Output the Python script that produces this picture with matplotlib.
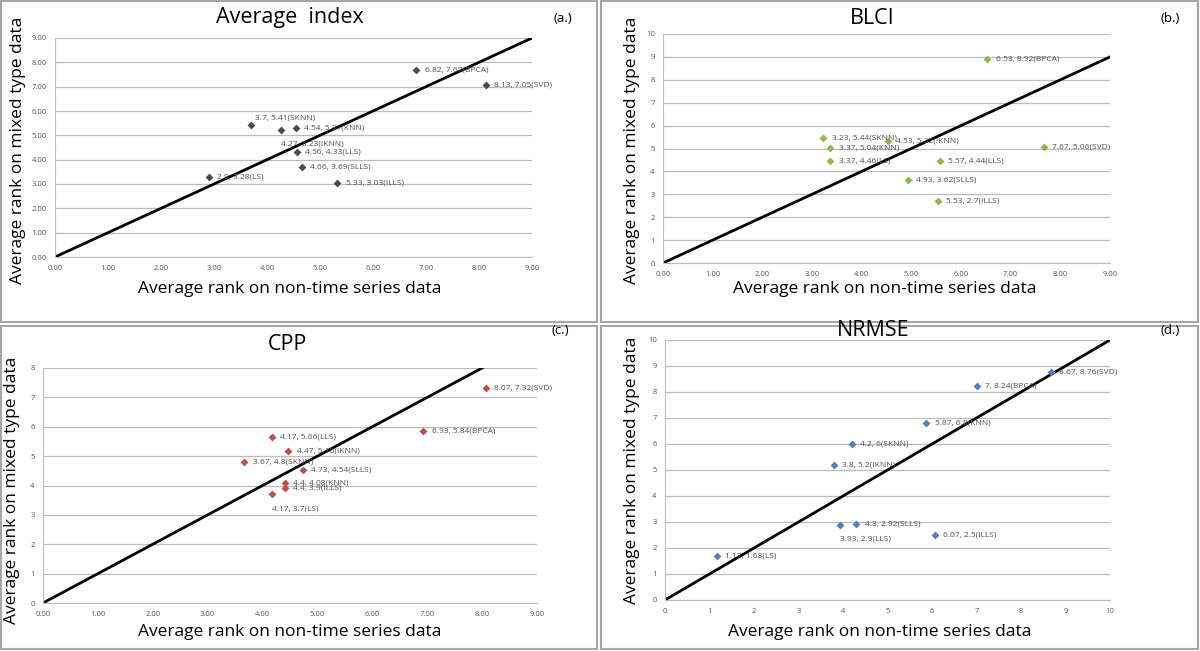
"""
Average rank comparison of imputation methods (four panels)
"""

import matplotlib
matplotlib.use("Agg")
from matplotlib import pyplot as plt
from matplotlib.patches import Rectangle
from matplotlib.ticker import FormatStrFormatter

plt.rcParams['font.family'] = ['Open Sans', 'DejaVu Sans']

# Average index
avg_names = ['BPCA', 'SVD', 'SKNN', 'KNN', 'IKNN', 'LLS', 'SLLS', 'LS', 'ILLS']
avg_x = [6.82, 8.13, 3.7, 4.54, 4.27, 4.56, 4.66, 2.9, 5.33]
avg_y = [7.67, 7.05, 5.41, 5.31, 5.23, 4.33, 3.69, 3.28, 3.03]

# BLCI
blci_names = ['BPCA', 'SKNN', 'IKNN', 'KNN', 'SVD', 'LS', 'LLS', 'SLLS', 'ILLS']
blci_x = [6.53, 3.23, 4.53, 3.37, 7.67, 3.37, 5.57, 4.93, 5.53]
blci_y = [8.92, 5.44, 5.32, 5.04, 5.06, 4.46, 4.44, 3.62, 2.7]

# CPP
cpp_names = ['SVD', 'BPCA', 'LLS', 'IKNN', 'SKNN', 'SLLS', 'KNN', 'ILLS', 'LS']
cpp_x = [8.07, 6.93, 4.17, 4.47, 3.67, 4.73, 4.4, 4.4, 4.17]
cpp_y = [7.32, 5.84, 5.66, 5.16, 4.8, 4.54, 4.08, 3.9, 3.7]

# NRMSE
nrmse_names = ['SVD', 'BPCA', 'KNN', 'SKNN', 'IKNN', 'SLLS', 'LLS', 'ILLS', 'LS']
nrmse_x = [8.67, 7, 5.87, 4.2, 3.8, 4.3, 3.93, 6.07, 1.17]
nrmse_y = [8.76, 8.24, 6.8, 6, 5.2, 2.92, 2.9, 2.5, 1.68]

XLABEL = 'Average rank on non-time series data'
YLABEL = 'Average rank on mixed type data'

fig = plt.figure(figsize=(12, 6.51), dpi=100)


def px(x0, y0, x1, y1):
    # pixel box (top-left origin) -> figure fraction rect
    return [x0 / 1200, 1 - y1 / 651, (x1 - x0) / 1200, (y1 - y0) / 651]


def panel(rect, names, xs, ys, color, ymax, diag_end, xfmt, yfmt, xmax,
          below=(), above=()):
    ax = fig.add_axes(rect)
    ax.plot([0, diag_end], [0, diag_end], color='black', lw=2, zorder=2)
    ax.scatter(xs, ys, marker='D', s=16, color=color, zorder=3, linewidths=0)
    for n, x, y in zip(names, xs, ys):
        txt = f'{x:g}, {y:g}({n})'
        if n in below:
            off, va = (0, -8), 'top'
        elif n in above:
            off, va = (3, 3), 'bottom'
        else:
            off, va = (6, 0), 'center'
        ax.annotate(txt, (x, y), xytext=off, textcoords='offset points',
                    fontsize=6, color='#505050', va=va, ha='left')
    ax.set_xlim(0, xmax)
    ax.set_ylim(0, ymax)
    ax.set_xticks(range(0, xmax + 1))
    ax.set_yticks(range(0, ymax + 1))
    if xfmt:
        ax.xaxis.set_major_formatter(FormatStrFormatter(xfmt))
    if yfmt:
        ax.yaxis.set_major_formatter(FormatStrFormatter(yfmt))
    ax.grid(axis='y', color='#bdbdbd', lw=0.9)
    ax.set_axisbelow(True)
    for s in ['top', 'right']:
        ax.spines[s].set_visible(False)
    for s in ['left', 'bottom']:
        ax.spines[s].set_color('#bdbdbd')
    ax.tick_params(length=0, labelsize=5.5, labelcolor='#555555', pad=6)
    return ax


panel(px(55, 38, 532, 257), avg_names, avg_x, avg_y, '#4d4d4d', 9, 9,
      '%.2f', '%.2f', 9, below=['IKNN'], above=['SKNN'])
panel(px(663, 34, 1110, 263), blci_names, blci_x, blci_y, '#8db84a', 10, 9,
      '%.2f', None, 9)
panel(px(43, 368, 537, 603), cpp_names, cpp_x, cpp_y, '#c0504d', 8, 8,
      '%.2f', None, 9, below=['LS'])
panel(px(665, 340, 1110, 600), nrmse_names, nrmse_x, nrmse_y, '#4f81bd', 10, 10,
      None, None, 10, below=['LLS'])

# titles, axis labels and panel tags in pixel positions
def ftext(x, y, s, **kw):
    fig.text(x / 1200, 1 - y / 651, s, ha='center', va='center', **kw)

ftext(290, 18, 'Average  index', fontsize=15.5)
ftext(872, 18, 'BLCI', fontsize=15.5)
ftext(287, 345, 'CPP', fontsize=15.5)
ftext(873, 330, 'NRMSE', fontsize=15.5)

ftext(563, 18, '(a.)', fontsize=9.5)
ftext(1170, 18, '(b.)', fontsize=9.5)
ftext(560, 330, '(c.)', fontsize=9.5)
ftext(1170, 330, '(d.)', fontsize=9.5)

for x, y in [(290, 289), (885, 289), (290, 632), (880, 632)]:
    ftext(x, y, XLABEL, fontsize=12.5)
for x, y in [(18, 150), (632, 150), (12, 490), (632, 470)]:
    ftext(x, y, YLABEL, fontsize=12.5, rotation=90)

# quadrant frames
for x0, y0, x1, y1 in [(1, 1, 597, 322), (601, 1, 1198, 322),
                       (1, 326, 597, 649), (601, 326, 1198, 649)]:
    r = px(x0, y0, x1, y1)
    fig.add_artist(Rectangle((r[0], r[1]), r[2], r[3], transform=fig.transFigure,
                             fill=False, edgecolor='#a6a6a6', lw=1.5))

fig.savefig('out.png', dpi=100)
